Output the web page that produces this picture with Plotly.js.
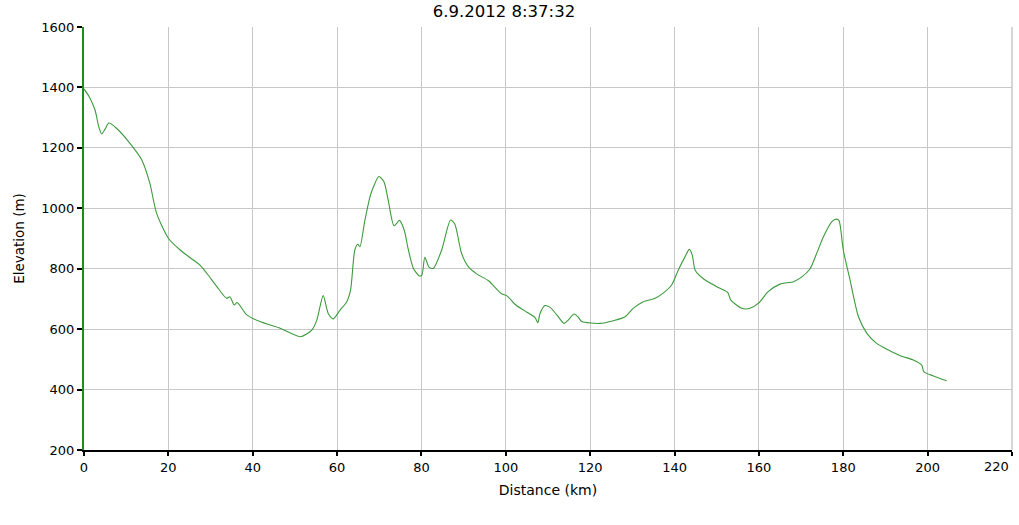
<!DOCTYPE html>
<html>
<head>
<meta charset="utf-8">
<script src="https://cdn.plot.ly/plotly-3.0.1.min.js"></script>
<style>html,body{margin:0;padding:0;background:#fff;}#chart{width:1019px;height:525px;}</style>
</head>
<body>
<div id="chart"></div>
<script>
const chartTitle = "6.9.2012 8:37:32";
const xTitle = "Distance (km)";
const yTitle = "Elevation (m)";
const xTickVals = [0,20,40,60,80,100,120,140,160,180,200,220];
const yTickVals = [200,400,600,800,1000,1200,1400,1600];

const distanceKm = [
  0, 1.2, 2.6, 3.5, 4.2, 5.0, 5.9, 7.7, 10.9, 13.7, 15.6, 17.2, 20.0, 22.8, 25.9, 27.5, 29.1, 31.5, 33.8, 34.6, 35.6, 36.3, 38.6, 41.7, 46.5,
  48.8, 51.4, 54.0, 55.2, 56.7, 57.9, 59.1, 60.7, 62.3, 63.2, 64.2, 64.9, 65.4, 66.6, 67.8, 68.4, 69.9, 71.1, 72.1, 73.5, 74.8, 75.9, 76.9, 78.1, 79.5, 80.1, 80.8, 81.8, 82.8, 84.8, 86.9, 87.9, 89.5, 91.1, 93.1, 95.9, 99.0, 100.2, 102.4, 105.0,
  106.9, 107.6, 108.1, 109.3, 110.5, 112.1, 113.8, 114.8, 116.2, 117.2, 118.0, 122.3, 125.5, 128.3, 130.2, 132.6, 135.4, 137.3, 139.3, 140.9, 142.5, 143.5, 144.2, 144.9, 147.0, 150.5, 152.6, 153.3, 155.9, 157.9, 159.9, 162.2, 165.0, 168.2, 170.1, 172.1, 173.7, 175.3, 177.3, 178.4, 179.0, 180.0, 181.6, 183.6, 185.6, 187.9, 190.7, 193.5, 196.6, 198.6, 199.1, 201.4, 204.5
];
const elevationM = [
  1395, 1370, 1326, 1270, 1246, 1262, 1282, 1265, 1215, 1160, 1083, 984, 901, 862, 829, 812, 785, 741, 702, 707, 680, 688, 647, 625, 603,
  588, 575, 597, 630, 711, 652, 634, 663, 691, 730, 862, 881, 873, 961, 1038, 1063, 1105, 1088, 1028, 942, 960, 928, 862, 801, 776, 779, 838, 805, 801, 862, 961, 948, 851, 807, 783, 760, 717, 711, 680, 656,
  639, 621, 652, 678, 672, 647, 619, 630, 650, 639, 625, 619, 628, 641, 669, 691, 702, 719, 746, 796, 840, 864, 845, 795, 765, 737, 722, 697, 669, 669, 686, 724, 749, 757, 772, 799, 851, 906, 956, 964, 959, 862, 763, 641, 586, 553, 531, 512, 498, 481, 459, 445, 429
];

const fontFam = "DejaVu Sans, Verdana, sans-serif";
const lastTick = xTickVals[xTickVals.length - 1];

Plotly.newPlot('chart', [{
  x: distanceKm,
  y: elevationM,
  type: 'scatter',
  mode: 'lines',
  line: {color: '#3c9a3c', width: 1.1, shape: 'spline', smoothing: 0.7},
  hoverinfo: 'skip'
}], {
  width: 1019,
  height: 525,
  margin: {l: 84, r: 7, t: 27, b: 75},
  paper_bgcolor: '#ffffff',
  plot_bgcolor: '#ffffff',
  showlegend: false,
  title: {
    text: chartTitle,
    font: {family: fontFam, size: 16.5, color: '#000'},
    x: 504/1019, xref: 'container', xanchor: 'center',
    y: 1 - 11/525, yref: 'container', yanchor: 'middle'
  },
  shapes: [{
    type: 'line', xref: 'paper', yref: 'paper',
    x0: 1, x1: 1, y0: 0, y1: 1,
    line: {color: '#c8c8c8', width: 1.5}, layer: 'above'
  }],
  annotations: [{
    text: String(lastTick), xref: 'x', yref: 'paper', x: lastTick, y: 0,
    xanchor: 'right', yanchor: 'top', xshift: -1, yshift: -7, showarrow: false,
    font: {family: fontFam, size: 13, color: '#000'}
  }],
  xaxis: {
    range: [0, 220],
    tickvals: xTickVals,
    ticktext: xTickVals.map(v => v === lastTick ? '' : String(v)),
    showgrid: true,
    gridcolor: '#c8c8c8',
    gridwidth: 1,
    zeroline: false,
    showline: true,
    linecolor: '#000',
    linewidth: 2,
    ticks: 'outside',
    ticklen: 4,
    tickwidth: 2,
    tickcolor: '#000',
    tickfont: {family: fontFam, size: 13, color: '#000'},
    title: {text: xTitle, font: {family: fontFam, size: 14, color: '#000'}, standoff: 12},
    fixedrange: true
  },
  yaxis: {
    range: [200, 1600],
    tickvals: yTickVals,
    ticktext: yTickVals.map(String),
    showgrid: true,
    gridcolor: '#c8c8c8',
    gridwidth: 1,
    zeroline: false,
    showline: true,
    linecolor: '#1e8c1e',
    linewidth: 2,
    ticks: 'outside',
    ticklen: 5,
    tickwidth: 2,
    tickcolor: '#000',
    tickfont: {family: fontFam, size: 13, color: '#000'},
    title: {text: yTitle, font: {family: fontFam, size: 13.5, color: '#000'}, standoff: 14},
    fixedrange: true
  }
}, {displayModeBar: false, staticPlot: true});
</script>
</body>
</html>
